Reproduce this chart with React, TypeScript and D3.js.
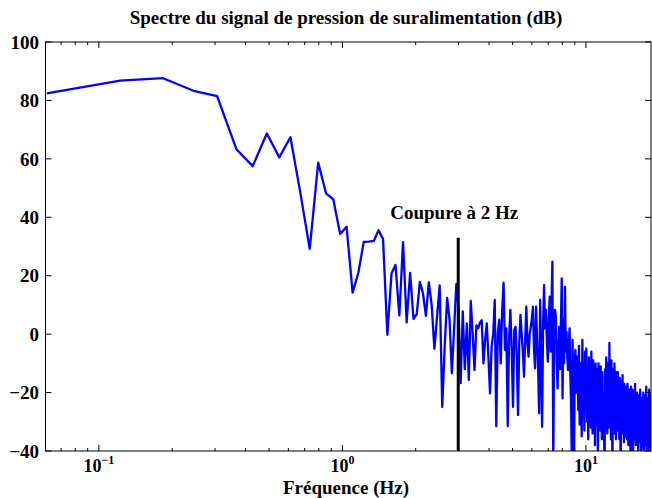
import React from "react";
import * as d3 from "d3";

// frequency resolution of the spectrum (Hz), bins k = 1..N
const freqStep = 0.0612;

// magnitude of each bin, in dB
const spectrumDb = [
  82.4, 86.8, 87.6, 83.3, 81.5, 63.3, 57.5, 68.7, 60.5, 67.4,
  48, 29.2, 58.7, 48.2, 46.1, 34.3, 36.8, 14.2, 21, 31.6,
  31.7, 31.9, 35.6, 32.6, -0.2, 20.8, 23.7, 6.4, 31.5, 4,
  21, 5.2, 6.8, 17.9, 14, 6.3, 17.7, 10, -5, 6,
  16.7, -24.9, -4, 12.4, 5, -13.4, 2, 17.2, 9, -16.8,
  7.8, -12, 3.7, -15.7, 11.4, 0, -12.3, 3, 2, 3.9,
  4.8, -10, -2, 3.7, -8, -20.3, -4.3, 0, 11.7, -31.5,
  0.3, 5, -10, 8, 17.6, -5.4, 2, -31.5, -2, 8.3,
  -5, -24.9, 1.4, 2.5, -8, -27.7, -3, 6.6, 0, -6,
  -14.6, -2, 9.4, -3, -7.7, 0, 2.5, 5, 9.4, -5,
  -11.7, 9.4, -2, -12, -27.1, 11.7, -8, -31.7, 4, 16.8,
  2, 8.3, -3, -9.4, 5, 12.8, -6, 10, 24.8, -45,
  0, 8.3, 6, -10, -18.6, -4, 2.5, -12, 4, 19.1,
  -22, 5, -10, 16.2, -6, 0.8, -8, -12.3, -3, 2,
  -14, -23.7, -45, -2, -18, -45, -10, -5.4, -20, -12,
  -7.7, -26, -4, -31, -10, -22, -35, -2, -27, -12,
  -33, -6, -24, -5, -30, -14, -36, -8, -26, -11,
  -32, -6, -22, -34, -9, -28, -15, -38, -10, -25,
  -31, -12, -45, -10, -27, -16, -33, -11, -24, -36,
  -13, -29, -20, -35, -45, -12, -30, -8, -26, -34,
  -10, -22, -32, -3, -28, -14, -36, -9, -30, -45,
  -12, -27, -34, -10, -30, -18, -36, -13, -25, -33,
  -13, -29, -20, -36, -15, -31, -45, -16, -27, -34,
  -14, -30, -22, -37, -17, -28, -35, -18, -32, -24,
  -36, -17, -30, -38, -19, -26, -34, -20, -45, -18,
  -31, -25, -37, -19, -45, -28, -33, -21, -36, -17,
  -30, -38, -22, -34, -20, -36, -27, -45, -21, -32,
  -24, -37, -19, -33, -28, -45, -22, -35, -26, -39,
  -20, -33, -27, -45, -21, -36, -29, -38, -18, -32,
  -25, -45, -22, -35, -28, -37, -19, -33, -45, -21,
  -30,
];

const yTicks = [-40, -20, 0, 20, 40, 60, 80, 100];
const xDecades = [-1, 0, 1];
const xMinor = [0.07, 0.08, 0.09, 0.2, 0.3, 0.4, 0.5, 0.6, 0.7, 0.8, 0.9, 2, 3, 4, 5, 6, 7, 8, 9];

const cutoffFreq = 2.99;
const cutoffTop = 33;
const cutoffLabel = "Coupure à 2 Hz";
const title = "Spectre du signal de pression de suralimentation (dB)";
const xLabel = "Fréquence (Hz)";

const W = 652;
const H = 498;
const left = 45.5;
const right = 651;
const top = 42;
const bottom = 451;
const font = "'Liberation Serif', 'Times New Roman', serif";

export default function App() {
  const x = d3.scaleLog().domain([0.0604, 18.5]).range([left, right]);
  const y = d3.scaleLinear().domain([-40, 100]).range([bottom, top]);

  const pts = spectrumDb.map((v, i) => [(i + 1) * freqStep, v] as [number, number]);
  const line = d3
    .line<[number, number]>()
    .x((d) => x(d[0]))
    .y((d) => y(d[1]));

  return (
    <svg
      width={W}
      height={H}
      style={{ position: "absolute", left: 0, top: 0, background: "#fff" }}
      fontFamily={font}
      fontWeight="bold"
    >
      <defs>
        <clipPath id="plot">
          <rect x={left} y={top} width={right - left} height={bottom - top} />
        </clipPath>
      </defs>

      <path d={line(pts) || ""} fill="none" stroke="#0000ff" strokeWidth={2.3} clipPath="url(#plot)" strokeLinejoin="round" />

      {/* cutoff marker */}
      <line x1={x(cutoffFreq)} x2={x(cutoffFreq)} y1={y(cutoffTop)} y2={y(-40)} stroke="#000" strokeWidth={3} />
      <text x={x(cutoffFreq) - 4} y={219} fontSize={19} textAnchor="middle">{cutoffLabel}</text>

      {/* frame */}
      <rect x={left} y={top} width={right - left} height={bottom - top} fill="none" stroke="#000" strokeWidth={1} />

      {yTicks.map((t) => (
        <g key={t}>
          <line x1={left} x2={left + 6} y1={y(t)} y2={y(t)} stroke="#000" />
          <line x1={right} x2={right - 6} y1={y(t)} y2={y(t)} stroke="#000" />
          <text x={39} y={y(t)} dy="0.35em" fontSize={19} textAnchor="end">
            {t < 0 ? "\u2212" + Math.abs(t) : t}
          </text>
        </g>
      ))}

      {xMinor.map((t) => (
        <g key={t}>
          <line x1={x(t)} x2={x(t)} y1={bottom} y2={bottom - 3} stroke="#000" />
          <line x1={x(t)} x2={x(t)} y1={top} y2={top + 3} stroke="#000" />
        </g>
      ))}
      {xDecades.map((d) => (
        <g key={d}>
          <line x1={x(10 ** d)} x2={x(10 ** d)} y1={bottom} y2={bottom - 6} stroke="#000" />
          <line x1={x(10 ** d)} x2={x(10 ** d)} y1={top} y2={top + 6} stroke="#000" />
          <text x={x(10 ** d)} y={472} fontSize={18} textAnchor="middle">
            10
            <tspan fontSize={12} dy={-8}>{d < 0 ? "\u2212" + Math.abs(d) : d}</tspan>
          </text>
        </g>
      ))}

      <text x={346} y={24} fontSize={19} textAnchor="middle">{title}</text>
      <text x={346} y={494} fontSize={19} textAnchor="middle">{xLabel}</text>
    </svg>
  );
}
